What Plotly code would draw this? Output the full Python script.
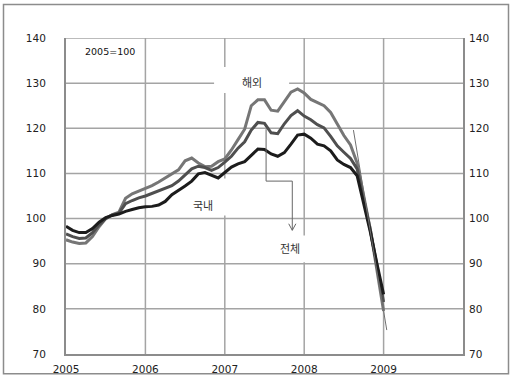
import plotly.graph_objects as go

# ---- data (monthly, Jan 2005 .. Jan 2009) ----
months = list(range(49))
x_years = [2005 + m / 12 for m in months]

overseas = [95.3, 94.8, 94.5, 94.6, 96.0, 98.2, 100.0, 100.9, 101.4, 104.5,
            105.5, 106.1, 106.6, 107.3, 108.1, 109.0, 109.8, 110.8, 112.8, 113.4,
            112.3, 111.5, 111.6, 112.6, 113.2, 115.2, 117.5, 119.8, 125.0, 126.3,
            126.3, 124.0, 123.8, 126.0, 128.0, 128.7, 127.8, 126.4, 125.7, 125.0,
            123.5, 120.8, 118.4, 116.3, 112.3, 105.0, 97.5, 88.5, 79.5]   # 해외
total = [96.6, 96.0, 95.6, 95.7, 96.9, 98.6, 100.0, 100.8, 101.2, 103.3,
         104.0, 104.6, 105.0, 105.6, 106.2, 106.8, 107.3, 108.3, 109.6, 111.0,
         111.6, 111.3, 110.7, 111.3, 112.5, 113.8, 115.6, 117.0, 119.6, 121.3,
         121.1, 119.0, 118.8, 121.0, 122.8, 123.9, 122.7, 121.9, 120.8, 120.1,
         118.2, 116.1, 114.7, 113.3, 111.0, 104.5, 97.5, 89.5, 81.5]      # 전체
domestic = [98.3, 97.4, 96.9, 96.9, 97.8, 99.2, 100.2, 100.7, 101.0, 101.6,
            102.0, 102.4, 102.6, 102.7, 103.0, 103.8, 105.3, 106.2, 107.2, 108.3,
            109.9, 110.2, 109.6, 109.0, 110.2, 111.4, 112.1, 112.6, 114.0, 115.4,
            115.3, 114.3, 113.8, 114.6, 116.5, 118.5, 118.7, 117.8, 116.5, 116.1,
            115.0, 113.0, 112.0, 111.3, 109.5, 103.5, 97.0, 90.0, 83.2]   # 국내

thin_x = [2008.62, 2008.83, 2009.04]
thin_y = [119.6, 97.5, 75.3]

y_ticks = [70, 80, 90, 100, 110, 120, 130, 140]
x_ticks = [2005, 2006, 2007, 2008, 2009]
x_tick_labels = ["2005", "2006", "2007", "2008", "2009"]
X_MIN, X_MAX, Y_MIN, Y_MAX = 2005, 2010, 70, 140

# ---- figure ----
fig = go.Figure()
fig.add_trace(go.Scatter(x=x_years, y=overseas, mode="lines", name="해외",
                         line=dict(color="#767676", width=3), showlegend=False))
fig.add_trace(go.Scatter(x=x_years, y=total, mode="lines", name="전체",
                         line=dict(color="#4f4f4f", width=3), showlegend=False))
fig.add_trace(go.Scatter(x=x_years, y=domestic, mode="lines", name="국내",
                         line=dict(color="#1c1c1c", width=3), showlegend=False))
fig.add_trace(go.Scatter(x=thin_x, y=thin_y, mode="lines", yaxis="y2",
                         line=dict(color="#707070", width=1), showlegend=False))

tick_font = dict(family="DejaVu Sans", size=10.5, color="#222222")
kfont = dict(family="Noto Sans CJK KR", size=11, color="#333333")

fig.update_layout(
    width=512, height=387,
    margin=dict(l=66, r=49, t=38, b=23),
    paper_bgcolor="white", plot_bgcolor="white",
    xaxis=dict(range=[X_MIN, X_MAX], tickvals=x_ticks, ticktext=x_tick_labels,
               showgrid=False, showline=True, linecolor="#8c8c8c", linewidth=2,
               ticks="", tickfont=tick_font, ticklabelstandoff=4,
               zeroline=False),
    yaxis=dict(range=[Y_MIN, Y_MAX], tickvals=y_ticks,
               showgrid=False, showline=True, linecolor="#8c8c8c", linewidth=2,
               ticks="", tickfont=tick_font, ticklabelstandoff=16,
               zeroline=False),
    yaxis2=dict(range=[Y_MIN, Y_MAX], tickvals=y_ticks, overlaying="y", side="right",
                showgrid=False, showline=True, linecolor="#8c8c8c", linewidth=2,
                ticks="", tickfont=tick_font, ticklabelstandoff=2,
                zeroline=False),
)

# grid lines drawn as segments, leaving gaps behind the labels
GRID = dict(color="#a4a4a4", width=1.5)
h_gaps = {130: (2006.865, 2007.81)}
v_gaps = {2007: [(100.66, 108.9), (127.8, 133.6)], 2008: [(90.3, 96.26)]}
for yv in y_ticks[1:]:
    segs = [(X_MIN, X_MAX)]
    if yv in h_gaps:
        a, b = h_gaps[yv]
        segs = [(X_MIN, a), (b, X_MAX)]
    for a, b in segs:
        fig.add_shape(type="line", xref="x", yref="y", x0=a, x1=b, y0=yv, y1=yv,
                      line=GRID, layer="below")
for xv in x_ticks[1:]:
    cuts = sorted(v_gaps.get(xv, []))
    start = Y_MIN
    for a, b in cuts:
        fig.add_shape(type="line", xref="x", yref="y", x0=xv, x1=xv, y0=start, y1=a,
                      line=GRID, layer="below")
        start = b
    fig.add_shape(type="line", xref="x", yref="y", x0=xv, x1=xv, y0=start, y1=Y_MAX,
                  line=GRID, layer="below")

# outer border (pixel positions converted to paper fractions)
pw, ph = 512 - 66 - 49, 387 - 38 - 23
fig.add_shape(type="rect", xref="paper", yref="paper",
              x0=(3.5 - 66) / pw, x1=(508.5 - 66) / pw,
              y0=-(384.5 - 364) / ph, y1=1 + (38 - 3.5) / ph,
              line=dict(color="#8c8c8c", width=1.5), layer="above")

# connector arrow to 전체 label
fig.add_shape(type="path", xref="x", yref="y",
              path="M 2007.52 119.8 L 2007.52 108.3 L 2007.85 108.3 L 2007.85 97.4",
              line=dict(color="#666666", width=1))
fig.add_shape(type="path", xref="x", yref="y",
              path="M 2007.805 98.85 L 2007.85 97.4 L 2007.895 98.85",
              line=dict(color="#666666", width=1))

fig.add_annotation(x=2005.22, y=137.0, text="2005=100", showarrow=False,
                   xanchor="left", yanchor="middle", font=dict(family="DejaVu Sans", size=9.5, color="#111111"))
fig.add_annotation(x=2007.343, y=130.35, text="해외", showarrow=False, font=kfont)
fig.add_annotation(x=2006.727, y=103.1, text="국내", showarrow=False, font=kfont)
fig.add_annotation(x=2007.82, y=93.5, text="전체", showarrow=False, font=kfont)

fig.write_html("out.html",
               config={"displayModeBar": False},
               post_script="document.body.style.margin='0';document.body.style.overflow='hidden';")
